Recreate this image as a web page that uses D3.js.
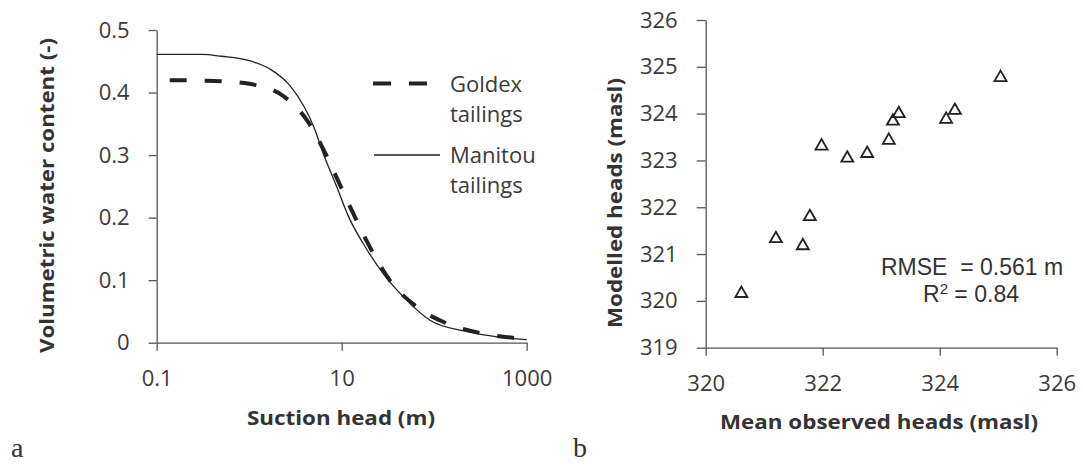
<!DOCTYPE html>
<html>
<head>
<meta charset="utf-8">
<script src="https://cdn.jsdelivr.net/npm/d3@7"></script>
<style>
  html, body { margin: 0; padding: 0; background: #fff; }
  svg { display: block; }
</style>
</head>
<body>
<svg id="chart" width="1083" height="465"></svg>
<script>
// ---- Panel a: water retention curves ----
const suctionHeadGoldex = [0.1, 0.3, 0.5, 1, 2.3, 4.2, 6.6, 9.6, 14, 21, 33, 64, 136, 325, 1000];
const thetaGoldex       = [0.420, 0.419, 0.418, 0.414, 0.395, 0.356, 0.304, 0.252, 0.200, 0.148, 0.100, 0.058, 0.031, 0.015, 0.006];
const suctionHeadManitou = [0.1, 0.3, 0.5, 1, 1.7, 2.8, 3.9, 5, 6.3, 8.8, 12, 17, 28, 46, 90, 220, 500, 1000];
const thetaManitou       = [0.461, 0.461, 0.458, 0.451, 0.437, 0.410, 0.378, 0.345, 0.303, 0.250, 0.200, 0.159, 0.111, 0.074, 0.036, 0.018, 0.009, 0.005];
const xTicksA = [0.1, 10, 1000];
const yTicksA = [0, 0.1, 0.2, 0.3, 0.4, 0.5];
const legendNames = ["Goldex", "Manitou"];

// ---- Panel b: modelled vs observed heads ----
const observedHeads = [320.61, 321.20, 321.66, 321.78, 321.98, 322.42, 322.76, 323.13, 323.20, 323.30, 324.11, 324.26, 325.04];
const modelledHeads = [320.19, 321.36, 321.21, 321.83, 323.34, 323.08, 323.18, 323.46, 323.87, 324.03, 323.91, 324.10, 324.80];
const xTicksB = [320, 322, 324, 326];
const yTicksB = [319, 320, 321, 322, 323, 324, 325, 326];
const statsText = ["RMSE  = 0.561 m", "0.84"];

const svg = d3.select("#chart");
const tickFont = "'Open Sans', sans-serif";
const axisColor = "#555";
const labelColor = "#3a3a3a";

function styleAxis(g) {
  g.select(".domain").attr("stroke", axisColor).attr("stroke-width", 1.3);
  g.selectAll(".tick line").attr("stroke", axisColor).attr("stroke-width", 1.3);
  g.selectAll(".tick text").attr("fill", labelColor).style("font-family", tickFont).style("font-size", "22px");
}

// ---------- Panel a ----------
const xA = d3.scaleLog().domain([0.1, 1000]).range([156.7, 526.7]);
const yA = d3.scaleLinear().domain([0, 0.5]).range([342.7, 30]);

const gxA = svg.append("g").attr("transform", `translate(0,${yA(0)})`)
  .call(d3.axisBottom(xA).tickValues(xTicksA).tickFormat(d => String(d)).tickSizeInner(8).tickSizeOuter(0).tickPadding(20));
styleAxis(gxA);

const gyA = svg.append("g").attr("transform", `translate(${xA(0.1)},0)`)
  .call(d3.axisLeft(yA).tickValues(yTicksA).tickFormat(d => String(d)).tickSizeInner(8).tickSizeOuter(0).tickPadding(19));
styleAxis(gyA);

const lineA = d3.line().x(d => xA(d[0])).y(d => yA(d[1])).curve(d3.curveMonotoneX);

svg.append("path")
  .datum(d3.zip(suctionHeadManitou, thetaManitou))
  .attr("d", lineA).attr("fill", "none").attr("stroke", "#222").attr("stroke-width", 1.3);

svg.append("path")
  .datum(d3.zip(suctionHeadGoldex, thetaGoldex))
  .attr("d", lineA).attr("fill", "none").attr("stroke", "#222").attr("stroke-width", 4)
  .attr("stroke-dasharray", "17 18").attr("stroke-dashoffset", 22);

// legend
const legend = svg.append("g");
legend.append("line").attr("x1", 373).attr("x2", 427).attr("y1", 83.5).attr("y2", 83.5)
  .attr("stroke", "#222").attr("stroke-width", 4).attr("stroke-dasharray", "18 18");
legend.append("line").attr("x1", 374).attr("x2", 440).attr("y1", 155).attr("y2", 155)
  .attr("stroke", "#222").attr("stroke-width", 1.3);
[[legendNames[0], 91.5], ["tailings", 121.5], [legendNames[1], 163], ["tailings", 193]].forEach(([t, y]) => {
  legend.append("text").attr("x", 450).attr("y", y).text(t)
    .attr("fill", labelColor).style("font-family", tickFont).style("font-size", "22px");
});

// axis titles
svg.append("text").attr("x", 341).attr("y", 425).attr("text-anchor", "middle")
  .attr("textLength", 188).attr("lengthAdjust", "spacingAndGlyphs")
  .style("font-family", tickFont).style("font-weight", "bold").style("font-size", "19px").attr("fill", "#333")
  .text("Suction head (m)");
svg.append("text").attr("transform", "translate(54,195.5) rotate(-90)").attr("text-anchor", "middle")
  .attr("textLength", 315).attr("lengthAdjust", "spacingAndGlyphs")
  .style("font-family", tickFont).style("font-weight", "bold").style("font-size", "19px").attr("fill", "#333")
  .text("Volumetric water content (-)");

svg.append("text").attr("x", 11).attr("y", 457).text("a")
  .style("font-family", "'Liberation Serif', serif").style("font-size", "28px").attr("fill", "#333");

// ---------- Panel b ----------
const xB = d3.scaleLinear().domain([320, 326]).range([705.7, 1056.7]);
const yB = d3.scaleLinear().domain([319, 326]).range([347.7, 20]);

const gxB = svg.append("g").attr("transform", `translate(0,${yB(319)})`)
  .call(d3.axisBottom(xB).tickValues(xTicksB).tickFormat(d => String(d)).tickSizeInner(8).tickSizeOuter(0).tickPadding(20));
styleAxis(gxB);

const gyB = svg.append("g").attr("transform", `translate(${xB(320)},0)`)
  .call(d3.axisLeft(yB).tickValues(yTicksB).tickFormat(d => String(d)).tickSizeInner(9).tickSizeOuter(0).tickPadding(19));
styleAxis(gyB);

svg.append("g").selectAll("path")
  .data(d3.zip(observedHeads, modelledHeads))
  .join("path")
  .attr("d", d => {
    const cx = xB(d[0]), cy = yB(d[1]);
    return `M${cx},${cy - 5.5}L${cx + 6},${cy + 5}L${cx - 6},${cy + 5}Z`;
  })
  .attr("fill", "none").attr("stroke", "#222").attr("stroke-width", 1.8).attr("stroke-linejoin", "miter");

svg.append("text").attr("x", 972).attr("y", 275).attr("text-anchor", "middle")
  .style("white-space", "pre")
  .style("font-family", "'Liberation Sans', Arial, sans-serif").style("font-size", "23px").attr("fill", "#333")
  .text(statsText[0]);
const r2 = svg.append("text").attr("x", 971).attr("y", 302).attr("text-anchor", "middle")
  .style("font-family", "'Liberation Sans', Arial, sans-serif").style("font-size", "23px").attr("fill", "#333");
r2.append("tspan").text("R");
r2.append("tspan").attr("dy", -8).style("font-size", "15px").text("2");
r2.append("tspan").attr("dy", 8).text(" = " + statsText[1]);

svg.append("text").attr("x", 879).attr("y", 429).attr("text-anchor", "middle")
  .attr("textLength", 318).attr("lengthAdjust", "spacingAndGlyphs")
  .style("font-family", tickFont).style("font-weight", "bold").style("font-size", "19px").attr("fill", "#333")
  .text("Mean observed heads (masl)");
svg.append("text").attr("transform", "translate(622,203) rotate(-90)").attr("text-anchor", "middle")
  .attr("textLength", 250).attr("lengthAdjust", "spacingAndGlyphs")
  .style("font-family", tickFont).style("font-weight", "bold").style("font-size", "19px").attr("fill", "#333")
  .text("Modelled heads (masl)");

svg.append("text").attr("x", 573).attr("y", 457).text("b")
  .style("font-family", "'Liberation Serif', serif").style("font-size", "28px").attr("fill", "#333");
</script>
</body>
</html>
